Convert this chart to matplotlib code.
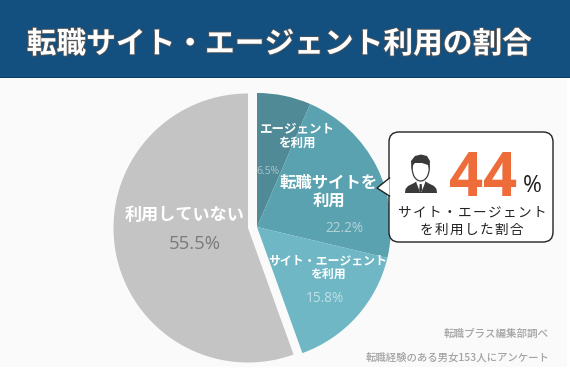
import matplotlib
matplotlib.use("Agg")
import matplotlib.pyplot as plt
import matplotlib.patheffects as pe
from matplotlib.patches import Rectangle, FancyBboxPatch, Polygon, Ellipse

plt.rcParams['font.family'] = ['Noto Sans CJK JP', 'DejaVu Sans']

title = "転職サイト・エージェント利用の割合"
use_values = [6.5, 22.2, 15.8]
use_colors = ["#4f8a96", "#5aa2b0", "#6fb7c5"]
use_labels = ["エージェント\nを利用", "転職サイトを\n利用", "サイト・エージェント\nを利用"]
use_pcts = ["6.5%", "22.2%", "15.8%"]
none_value = [55.5]
none_label = "利用していない"
none_pct = "55.5%"
remainder = 100 - sum(none_value)
callout_value = "44"
callout_text = "サ\u200aイ\u200aト\u200a・\u200aエ\u200aー\u200aジ\u200aェ\u200aン\u200aト\nを\u200a利\u200a用\u200aし\u200aた\u200a割\u200a合"
notes = ["転職プラス編集部調べ", "転職経験のある男女153人にアンケート"]

W, H = 570, 373
fig = plt.figure(figsize=(W / 100, H / 100), dpi=100, facecolor="white")
ax = fig.add_axes([0, 0, 1, 1])
Y = lambda py: H - py

ax.add_patch(Rectangle((0, Y(367)), 567, 289, fc="#fafafa", ec="none", zorder=0))
ax.add_patch(Rectangle((0, Y(77.5)), W, 77.5, fc="#14507f", ec="none", zorder=1))
ax.add_patch(Rectangle((0, Y(78)), W, 1, fc="#0e3d6b", ec="none", zorder=1))
ax.text(279.5, Y(44), title, color="white", fontsize=21.4, fontweight="bold",
        ha="center", va="center", zorder=5,
        path_effects=[pe.withStroke(linewidth=1.2, foreground="#555555")])

# pies: the used share is drawn clockwise from 12 o'clock, then the unused share
ax.pie(use_values + [100 - sum(use_values)], colors=use_colors + ["none"], startangle=90,
       counterclock=False, center=(257, Y(227)), radius=134, wedgeprops=dict(lw=0), frame=False)
ax.pie([remainder] + none_value, colors=["none", "#c4c4c4"], startangle=90,
       counterclock=False, center=(248, Y(228)), radius=134.5, wedgeprops=dict(lw=0), frame=False)

pct_font = ['Open Sans', 'DejaVu Sans']
ax.text(296.5, Y(136), use_labels[0], color="white", fontsize=9, fontweight="bold",
        ha="center", va="center", linespacing=1.15, zorder=4)
ax.text(329, Y(192.5), use_labels[1], color="white", fontsize=11.8, fontweight="bold",
        ha="center", va="center", linespacing=1.08, zorder=4)
ax.text(328, Y(267.5), use_labels[2], color="white", fontsize=8.6, fontweight="bold",
        ha="center", va="center", linespacing=1.0, zorder=4)
ax.text(185, Y(215), none_label, color="white", fontsize=12.3, fontweight="bold",
        ha="center", va="center", zorder=4)
ax.text(267.5, Y(172), use_pcts[0], color="#a9c6cc", fontsize=7.4, family=pct_font,
        ha="center", va="center", zorder=4)
ax.text(344.5, Y(229), use_pcts[1], color="#b4d3d9", fontsize=9.8, family=pct_font,
        ha="center", va="center", zorder=4)
ax.text(325, Y(299), use_pcts[2], color="#bfe0e6", fontsize=9.8, family=pct_font,
        ha="center", va="center", zorder=4)
ax.text(194.5, Y(244), none_pct, color="#7a7a7a", fontsize=13.3, family=pct_font,
        ha="center", va="center", zorder=4)

# callout
ax.add_patch(FancyBboxPatch((399, Y(232)), 144, 90, boxstyle="round,pad=10,rounding_size=10",
                            fc="white", ec="#222222", lw=1.0, zorder=6))
ax.add_patch(Polygon([(389.5, Y(178)), (377, Y(188)), (389.5, Y(196))], closed=True,
                     fc="white", ec="none", zorder=7))
ax.plot([389.5, 377, 389.5], [Y(178), Y(188), Y(196)], color="#222222", lw=1.0, zorder=8)

# person icon
ax.add_patch(Polygon([(405, Y(193)), (405.5, Y(189)), (408, Y(186)), (414, Y(183)), (417, Y(181)),
                      (425, Y(181)), (428, Y(183)), (434, Y(186)), (436.5, Y(189)), (437, Y(193))],
                     closed=True, fc="#3a3a3a", ec="none", zorder=8))
ax.add_patch(Polygon([(415.5, Y(178)), (426, Y(178)), (425, Y(183)), (421.5, Y(192)), (420, Y(192)), (416.5, Y(183))],
                     closed=True, fc="white", ec="none", zorder=9))
ax.add_patch(Polygon([(419.7, Y(184)), (421.7, Y(184)), (422.2, Y(190)), (420.7, Y(193)), (419.2, Y(190))],
                     closed=True, fc="#3a3a3a", ec="none", zorder=10))
ax.add_patch(Ellipse((420.7, Y(168.5)), 17, 25, fc="white", ec="#3a3a3a", lw=0.9, zorder=9))
ax.add_patch(Polygon([(411.5, Y(170)), (411, Y(161)), (415, Y(156)), (421, Y(154.5)), (427, Y(156)),
                      (430, Y(161)), (429.5, Y(170)), (428, Y(165)), (422, Y(163)), (415, Y(163)), (413, Y(165))],
                     closed=True, fc="#3a3a3a", ec="none", zorder=10))

ax.text(482.5, Y(180), callout_value, color="#ee6c3a", fontsize=43, fontweight="bold",
        family=pct_font, ha="center", va="center", zorder=8)
ax.text(532, Y(186), "%", color="#222222", fontsize=16.5, family=pct_font,
        ha="center", va="center", zorder=8)
ax.text(472, Y(221), callout_text, color="#222222", fontsize=9.8, ha="center", va="center",
        linespacing=1.25, zorder=8)

ax.text(549, Y(334), notes[0], color="#a3a3a3", fontsize=7.6, fontweight="medium",
        ha="right", va="center", zorder=4)
ax.text(549, Y(358), notes[1], color="#a3a3a3", fontsize=7.5, fontweight="medium",
        ha="right", va="center", zorder=4)

ax.set_aspect("auto")
ax.set_xlim(0, W)
ax.set_ylim(0, H)
ax.axis("off")
fig.savefig("out.png", dpi=100, facecolor="white")
